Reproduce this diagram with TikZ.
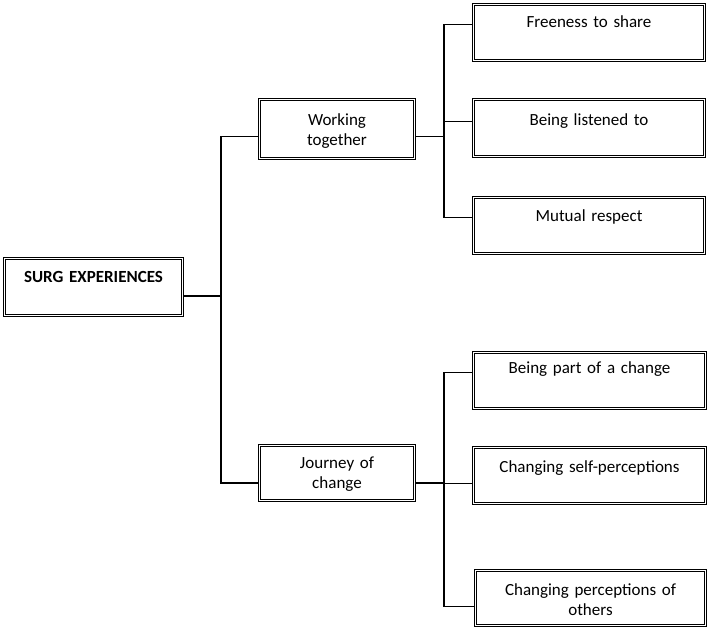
\documentclass[tikz,border=0pt]{standalone}
\usepackage{fontspec}
\setmainfont[WordSpace=0.85]{Carlito}
\begin{document}
\begin{tikzpicture}[x=1pt,y=-1pt,
  box/.style={draw=black, line width=1pt, double=white, double distance=1.5pt,
    anchor=north west, inner sep=0pt, align=center,
    font=\fontsize{17}{20}\selectfont},
  conn/.style={draw=black, line width=1.2pt}]
\useasboundingbox (0,0) rectangle (709,630);
% level 0
\node[box, text width=178pt, text height=24pt, text depth=33pt] (S) at (4,258) {\textbf{SURG EXPERIENCES}};
% level 1
\node[box, text width=155pt, text height=26pt, text depth=33pt] (W) at (259,99) {Working\\together};
\node[box, text width=155pt, text height=23pt, text depth=32pt] (J) at (259,445) {Journey of\\change};
% level 2
\node[box, text width=231pt, text height=23pt, text depth=33pt] (F) at (473,4) {Freeness to share};
\node[box, text width=231pt, text height=26pt, text depth=31pt] (L) at (473,99) {Being listened to};
\node[box, text width=231pt, text height=24pt, text depth=32pt] (M) at (473,197) {Mutual respect};
\node[box, text width=232pt, text height=21pt, text depth=35pt] (P) at (473,352) {Being part of a change};
\node[box, text width=232pt, text height=25pt, text depth=31pt] (C) at (473,447) {Changing self-perceptions};
\node[box, text width=230pt, text height=25pt, text depth=30pt] (O) at (475,570) {Changing perceptions of\\others};
% junctions
\path ([yshift=-9pt]S.east) ++(38,0) coordinate (j0);
\path ([yshift=-7.5pt]W.east) ++(29,0) coordinate (k1);
\path ([yshift=-10pt]J.east) ++(29,0) coordinate (k2);
% connectors
\draw[conn] ([yshift=-9pt]S.east) -- (j0);
\draw[conn] ([yshift=-7.5pt]W.west) -| (j0) |- ([yshift=-10pt]J.west);
\draw[conn] ([yshift=-7.5pt]W.east) -- (k1);
\draw[conn] ([yshift=8pt]F.west) -| (k1) |- ([yshift=8pt]M.west);
\draw[conn] ([yshift=6.5pt]L.west) -| (k1);
\draw[conn] ([yshift=-10pt]J.east) -- (k2);
\draw[conn] ([yshift=8pt]P.west) -| (k2) |- ([yshift=-8.5pt]O.west);
\draw[conn] ([yshift=-8pt]C.west) -| (k2);
\end{tikzpicture}
\end{document}
